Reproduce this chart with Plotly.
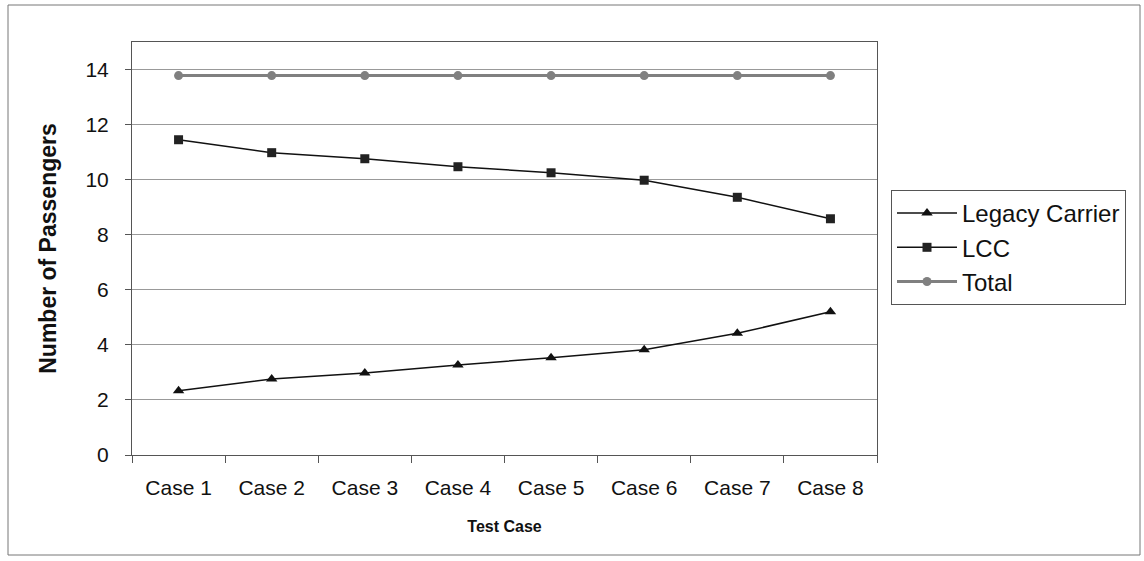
import plotly.graph_objects as go

categories = ["Case 1", "Case 2", "Case 3", "Case 4", "Case 5", "Case 6", "Case 7", "Case 8"]
legacy = [2.33, 2.76, 2.98, 3.27, 3.53, 3.82, 4.42, 5.2]
lcc = [11.45, 10.98, 10.76, 10.47, 10.25, 9.98, 9.36, 8.58]
total = [13.78] * 8

W, H = 1144, 561
L, R, T, B = 132, 877, 42, 455

fig = go.Figure()
fig.add_trace(go.Scatter(x=categories, y=legacy, name="Legacy Carrier", mode="lines+markers",
                         line=dict(color="#111111", width=1.5),
                         marker=dict(symbol="triangle-up", size=10, color="#111111")))
fig.add_trace(go.Scatter(x=categories, y=lcc, name="LCC", mode="lines+markers",
                         line=dict(color="#111111", width=1.5),
                         marker=dict(symbol="square", size=9, color="#222222")))
fig.add_trace(go.Scatter(x=categories, y=total, name="Total", mode="lines+markers",
                         line=dict(color="#808080", width=3),
                         marker=dict(symbol="circle", size=9, color="#808080")))

fig.update_layout(
    width=W, height=H,
    margin=dict(l=L, r=W - R, t=T, b=H - B),
    paper_bgcolor="white", plot_bgcolor="white",
    font=dict(family="Liberation Sans, Arial, sans-serif", color="#111111"),
    showlegend=True,
    legend=dict(x=(891 - L) / (R - L), y=(B - 190) / (B - T), xanchor="left", yanchor="top",
                bordercolor="#555555", borderwidth=1, bgcolor="white",
                font=dict(size=24), tracegroupgap=0, itemwidth=60),
)
fig.update_xaxes(
    type="category", tickson="boundaries", ticks="outside", ticklen=7, tickcolor="#555555",
    showline=True, linecolor="#555555", linewidth=1, mirror=True, showgrid=False,
    tickfont=dict(size=21), range=[-0.5, 7.5], ticklabelstandoff=14,
    title=dict(text="<b>Test Case</b>", font=dict(size=16), standoff=22),
)
fig.update_yaxes(
    range=[0, 15], tickvals=[0, 2, 4, 6, 8, 10, 12, 14], ticks="outside", ticklen=6, tickcolor="#555555",
    showline=True, linecolor="#555555", linewidth=1, mirror=True,
    showgrid=True, gridcolor="#999999", gridwidth=1,
    tickfont=dict(size=21), zeroline=False, ticklabelstandoff=12,
    title=dict(text="<b>Number of Passengers</b>", font=dict(size=23), standoff=22),
)

fig.add_shape(type="rect", xref="paper", yref="paper",
              x0=(8 - L) / (R - L), x1=(1140 - L) / (R - L),
              y0=(B - 555) / (B - T), y1=(B - 5) / (B - T),
              line=dict(color="#777777", width=1), layer="below")

fig.write_html("out.html")
